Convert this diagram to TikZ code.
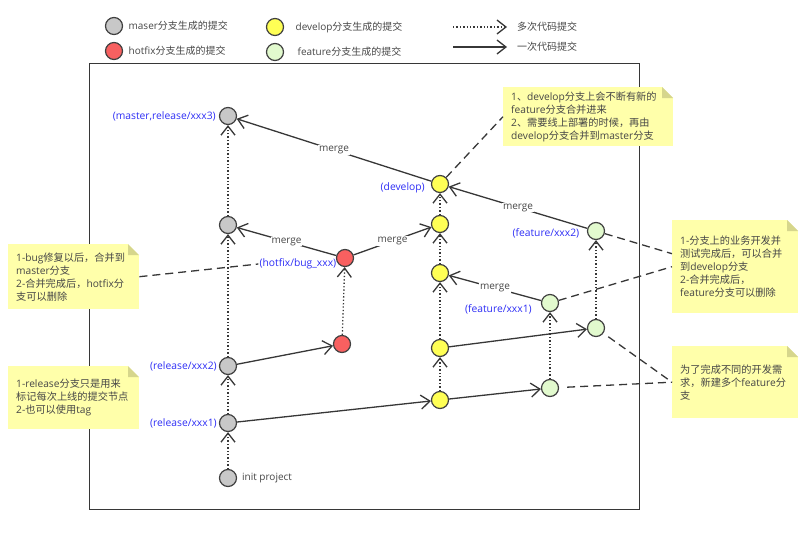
\documentclass[tikz,border=0pt]{standalone}
\usepackage{fontspec}
\setmainfont{Open Sans}
\newfontfamily\cjkfont{Noto Sans CJK SC}
\newcommand{\zh}[1]{{\cjkfont #1}}
\usetikzlibrary{positioning}
\usetikzlibrary{arrows.meta}

\begin{document}
\begin{tikzpicture}[x=1pt,y=-1pt,>={Straight Barb[length=9pt,width=14pt]},
	font=\fontsize{10}{13}\selectfont,
	main node/.style={circle,draw=nodeline,line width=1.2pt,minimum size=17pt,inner sep=0pt},
	master node/.style={main node,fill=mastergray},
	hotfix node/.style={main node,fill=hotfixred},
	develop node/.style={main node,fill=developyellow},
	feature node/.style={main node,fill=featuregreen},
	branch label/.style={text=branchblue,inner sep=1pt,font=\fontsize{10.3}{12}\selectfont},
	legend text/.style={text=textgray},
	merge label/.style={fill=white,inner sep=1pt,text=textgray},
	multi commit/.style={->,draw=linegray,line width=1.3pt,dash pattern=on 1.3pt off 2.1pt},
	single commit/.style={->,draw=linegray,line width=1.3pt},
	note link/.style={draw=linegray,line width=1.3pt,dash pattern=on 8pt off 5pt},
	note/.style={fill=notefill,anchor=north west,inner xsep=8pt,inner ysep=0pt,align=left,
		text=textgray,font=\fontsize{10.2}{13}\selectfont,
		path picture={
			\fill[white] ([xshift=-11pt]path picture bounding box.north east)
				-- (path picture bounding box.north east)
				-- ([yshift=-11pt]path picture bounding box.north east) -- cycle;
			\fill[notefold] ([xshift=-11pt]path picture bounding box.north east)
				-- ([yshift=-11pt]path picture bounding box.north east)
				-- ([xshift=-11pt,yshift=-11pt]path picture bounding box.north east) -- cycle;
		}}]

	\definecolor{mastergray}{RGB}{200,200,200}
	\definecolor{hotfixred}{RGB}{248,96,96}
	\definecolor{developyellow}{RGB}{255,255,85}
	\definecolor{featuregreen}{RGB}{226,250,206}
	\definecolor{nodeline}{RGB}{64,64,64}
	\definecolor{linegray}{RGB}{55,55,55}
	\definecolor{textgray}{RGB}{70,70,70}
	\definecolor{branchblue}{RGB}{45,45,245}
	\definecolor{notefill}{RGB}{255,255,170}
	\definecolor{notefold}{RGB}{214,214,140}

	\useasboundingbox (0,0) rectangle (808,535);

	% legend
	\node[master node] (lgm) at (114,26) {};
	\node[legend text, right=2pt of lgm] {maser\zh{分支生成的提交}};
	\node[hotfix node] (lgh) at (114,51) {};
	\node[legend text, right=2pt of lgh] {hotfix\zh{分支生成的提交}};
	\node[develop node] (lgd) at (275,27) {};
	\node[legend text, right=8pt of lgd] {develop\zh{分支生成的提交}};
	\node[feature node] (lgf) at (275,52) {};
	\node[legend text, right=10pt of lgf] {feature\zh{分支生成的提交}};
	\coordinate (lgmulti) at (453,27);
	\coordinate (lgmultiend) at (507,27);
	\node[legend text, right=6.5pt of lgmultiend] {\zh{多次代码提交}};
	\coordinate (lgsingle) at (453,47);
	\coordinate (lgsingleend) at (507,47);
	\node[legend text, right=6.5pt of lgsingleend] {\zh{一次代码提交}};
	\draw[multi commit] (lgmulti) -- (lgmultiend);
	\draw[single commit] (lgsingle) -- (lgsingleend);

	% frame
	\draw[linegray,line width=1.5pt] (89.5,63.5) rectangle (639.5,509.5);

	% master / release
	\node[master node] (init) at (228,478) {};
	\node[master node, on grid] (rel1) [above=55pt of init] {};
	\node[master node, on grid] (rel2) [above=57pt of rel1] {};
	\node[master node, on grid] (m2) [above=141pt of rel2] {};
	\node[master node, on grid] (m3) [above=109pt of m2] {};

	% hotfix
	\node[hotfix node] (h0) at (342,344) {};
	\node[hotfix node] (h1) at (345,258) {};

	% develop
	\node[develop node] (d1) at (440,400) {};
	\node[develop node, on grid] (d2) [above=52pt of d1] {};
	\node[develop node, on grid] (d3) [above=75pt of d2] {};
	\node[develop node, on grid] (d4) [above=49pt of d3] {};
	\node[develop node, on grid] (d5) [above=40pt of d4] {};

	% feature
	\node[feature node] (f1a) at (550,388) {};
	\node[feature node, on grid] (f1b) [above=85pt of f1a] {};
	\node[feature node] (f2a) at (596,328) {};
	\node[feature node, on grid] (f2b) [above=97pt of f2a] {};

	% labels
	\node[branch label, left=2pt of m3] (m3lbl) {(master,release/xxx3)};
	\node[branch label, left=1pt of rel2] (rel2lbl) {(release/xxx2)};
	\node[branch label, left=1pt of rel1] (rel1lbl) {(release/xxx1)};
	\node[legend text, right=1.5pt of init] (initlbl) {init project};
	\node[branch label, left=-1.5pt of h1, yshift=-6pt] (h1lbl) {(hotfix/bug\_xxx)};
	\node[branch label, left=5pt of d5, yshift=-4pt] (d5lbl) {(develop)};
	\node[branch label, left=6.5pt of f2b, yshift=-2pt] (f2lbl) {(feature/xxx2)};
	\node[branch label, left=8pt of f1b, yshift=-6pt] (f1lbl) {(feature/xxx1)};

	% notes
	\node[note, text width=154pt, minimum height=59pt] (devnote) at (503,87)
		{1\zh{、}develop\zh{分支上会不断有新的}\\feature\zh{分支合并进来}\\2\zh{、需要线上部署的时候，再由}\\develop\zh{分支合并到}master\zh{分支}};
	\node[note, text width=115pt, minimum height=65pt] (bugnote) at (8,244)
		{1-bug\zh{修复以后，合并到}\\master\zh{分支}\\2-\zh{合并完成后，}hotfix\zh{分}\\\zh{支可以删除}};
	\node[note, text width=115pt, minimum height=63pt] (relnote) at (8,366)
		{1-release\zh{分支只是用来}\\\zh{标记每次上线的提交节点}\\2-\zh{也可以使用}tag};
	\node[note, text width=110pt, minimum height=93pt] (featnote) at (672,220)
		{1-\zh{分支上的业务开发并}\\\zh{测试完成后，可以合并}\\\zh{到}develop\zh{分支}\\2-\zh{合并完成后，}\\feature\zh{分支可以删除}};
	\node[note, text width=110pt, minimum height=72pt] (newnote) at (672,346)
		{\zh{为了完成不同的开发需}\\\zh{求，新建多个}feature\zh{分}\\\zh{支}};

	% commits
	\path[multi commit]
	(init) edge (rel1)
	(rel1) edge (rel2)
	(rel2) edge (m2)
	(m2) edge (m3)
	(h0) edge (h1)
	(d1) edge (d2)
	(d2) edge (d3)
	(d3) edge (d4)
	(d4) edge (d5)
	(f1a) edge (f1b)
	(f2a) edge (f2b);

	\path[single commit]
	(rel1) edge (d1)
	(rel2) edge (h0)
	(d1) edge (f1a)
	(d2) edge (f2a)
	(h1) edge node[merge label] {merge} (m2)
	(h1) edge node[merge label] {merge} (d4)
	(d5) edge node[merge label] {merge} (m3)
	(f2b) edge node[merge label] {merge} (d5)
	(f1b) edge node[merge label] {merge} (d3);

	% note links
	\path[note link]
	(d5) edge (devnote.west)
	(bugnote.east) edge (h1lbl.west)
	(f2b) edge ([yshift=13pt]featnote.west)
	(f1b) edge (featnote.west)
	(f2a) edge[shorten <=6pt] (newnote.west)
	(f1a) edge[shorten <=8pt] (newnote.west);
\end{tikzpicture}
\end{document}
